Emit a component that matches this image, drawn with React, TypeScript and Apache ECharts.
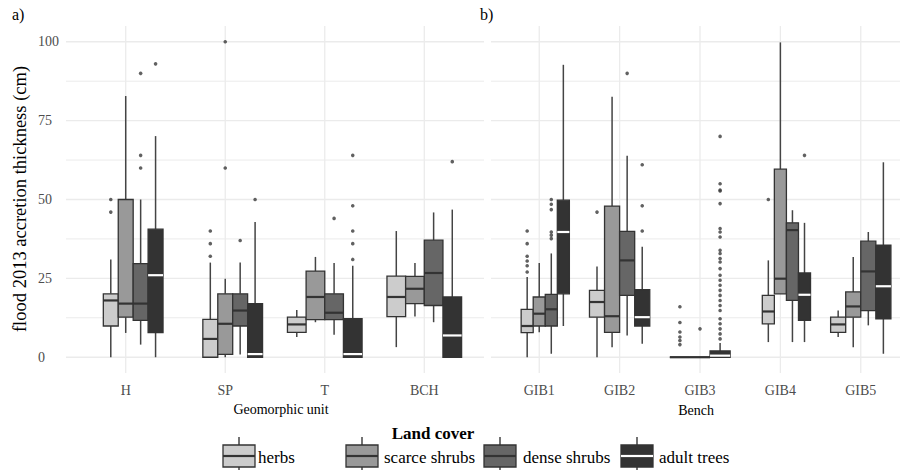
import React, { useEffect, useRef } from "react";
import * as echarts from "echarts";

// ---------- data ----------
const unitCats = ["H", "SP", "T", "BCH"];
const benchCats = ["GIB1", "GIB2", "GIB3", "GIB4", "GIB5"];
const landCovers = ["herbs", "scarce shrubs", "dense shrubs", "adult trees"];

const yMajor = [0, 25, 50, 75, 100];
const yMinor = [12.5, 37.5, 62.5, 87.5];

// box statistics per category: [min, Q1, median, Q3, max]
const unitHerbs = [[0, 9.9, 18, 20.1, 31], [0, 0, 5.8, 12, 30], [6.4, 7.9, 10.4, 12.7, 15], [3.2, 12.9, 19.1, 25.7, 40]];
const unitScarce = [[7.7, 12.7, 17, 50, 82.8], [0, 0.9, 10.6, 20.1, 24.9], [11.1, 11.9, 19.1, 27.3, 31.8], [12.9, 17, 21.7, 25.6, 29.9]];
const unitDense = [[4, 11.7, 17, 29.7, 50], [0.9, 9.9, 14.8, 20.1, 30], [7.1, 11.9, 14.1, 20.1, 29.9], [11.1, 16.4, 26.7, 37.1, 45.9]];
const unitAdult = [[0, 7.8, 26, 40.6, 70.1], [0, 0, 1, 17, 42.9], [0, 0, 1, 12.2, 29], [0, 0, 6.9, 19.1, 46.8]];

const unitHerbsOut = [[50, 46], [40, 36, 32], [], []];
const unitScarceOut = [[], [100, 60], [], []];
const unitDenseOut = [[90, 64, 60], [37], [44], []];
const unitAdultOut = [[93], [50], [64, 48, 40, 36, 31], [62]];

const benchHerbs = [[0, 7.8, 9.9, 15.2, 25.4], [0, 12.7, 17.5, 21.2, 28.8], [0, 0, 0, 0, 0], [4.8, 10.6, 14.5, 19.6, 30.7], [6.4, 7.9, 10.4, 12.7, 14.8]];
const benchScarce = [[7.9, 9.9, 13.8, 19.1, 29.9], [3.2, 7.9, 13, 47.9, 82.6], [0, 0, 0, 0, 0], [20.1, 20.1, 24.9, 59.6, 99.8], [3.2, 12.7, 16.1, 20.7, 31.8]];
const benchDense = [[1.1, 9.9, 15.2, 19.9, 32.9], [6.9, 19.6, 30.7, 39.9, 63.9], null, [4.8, 18, 40.3, 42.6, 46.6], [10.1, 14.8, 27.2, 36.8, 39.7]];
const benchAdult = [[9.9, 20.1, 39.7, 49.8, 92.7], [4.3, 9.9, 12.7, 21.4, 35], [0, 0, 0.5, 2, 4.5], [4.8, 11.7, 19.8, 26.7, 42.6], [1.1, 12.2, 22.5, 35.5, 61.8]];

const benchHerbsOut = [[40, 36, 32, 30.5, 29, 27], [46], [16, 11, 8, 6.4, 5.3, 4], [50], []];
const benchScarceOut = [[], [], [9], [], []];
const benchDenseOut = [[50, 48.5, 46.8, 39.7, 38.7, 37.6], [90], [], [], []];
const benchAdultOut = [[], [61, 48, 40], [70, 55, 53, 52.7, 48.7, 40.8, 39.7, 38.1, 33.9, 32.9, 31.3, 30.2, 28.1, 26, 24.4, 22.8, 21.2, 19.6, 18, 16.4, 14.8, 12.2, 10.6, 9, 7.4, 5.8], [64], []];

// dodge slots per category, and slot of each land cover (-1 = absent)
const unitDodge = [5, 5, 4, 4];
const unitSlot = [[1, 2, 3, 4], [1, 2, 3, 4], [0, 1, 2, 3], [0, 1, 2, 3]];
const benchDodge = [5, 4, 3, 5, 4];
const benchSlot = [[1, 2, 3, 4], [0, 1, 2, 3], [0, 1, -1, 2], [1, 2, 3, 4], [0, 1, 2, 3]];

// ---------- styles ----------
const FILLS = ["#cccccc", "#999999", "#666666", "#333333"];
const FONT = "'Liberation Serif', 'DejaVu Serif', serif";
const DODGE_W = 0.75;

function slotPos(cat: number, nSlots: number, slot: number) {
  const w = DODGE_W / nSlots;
  return { x: cat + 1 - DODGE_W / 2 + (slot + 0.5) * w, hw: w / 2 };
}

function buildBoxes(stats: any[][], dodge: number[], slots: number[][]) {
  const out: any[] = [];
  stats.forEach((arr, c) => {
    arr.forEach((s: number[] | null, i: number) => {
      if (!s) return;
      const sl = slots[i][c];
      if (sl < 0) return;
      const p = slotPos(i, dodge[i], sl);
      out.push([p.x, p.hw, s[0], s[1], s[2], s[3], s[4], c]);
    });
  });
  return out;
}

function buildOutliers(outs: number[][][], dodge: number[], slots: number[][]) {
  const out: any[] = [];
  outs.forEach((arr, c) => {
    arr.forEach((vals, i) => {
      const sl = slots[i][c];
      if (sl < 0) return;
      const p = slotPos(i, dodge[i], sl);
      vals.forEach((v) => out.push([p.x, v]));
    });
  });
  return out;
}

function boxRender(params: any, api: any) {
  const x = api.value(0);
  const hw = api.value(1);
  const c = api.value(7);
  const lx = api.coord([x - hw, 0])[0];
  const rx = api.coord([x + hw, 0])[0];
  const cx = api.coord([x, 0])[0];
  const yv = (k: number) => api.coord([x, api.value(k)])[1];
  const yMin = yv(2), yQ1 = yv(3), yMed = yv(4), yQ3 = yv(5), yMax = yv(6);
  const wStyle = { stroke: "#444444", lineWidth: 1.5 };
  return {
    type: "group",
    children: [
      { type: "line", shape: { x1: cx, y1: yQ3, x2: cx, y2: yMax }, style: wStyle },
      { type: "line", shape: { x1: cx, y1: yQ1, x2: cx, y2: yMin }, style: wStyle },
      {
        type: "rect",
        shape: { x: lx, y: yQ3, width: rx - lx, height: yQ1 - yQ3 },
        style: { fill: FILLS[c], stroke: "#333333", lineWidth: 1.3 },
      },
      {
        type: "line",
        shape: { x1: lx, y1: yMed, x2: rx, y2: yMed },
        style: { stroke: c === 3 ? "#ffffff" : "#333333", lineWidth: 2.2 },
      },
    ],
  };
}

function gridRender(xMin: number, xMax: number) {
  return (params: any, api: any) => {
    const kind = api.value(0);
    const v = api.value(1);
    let a, b;
    if (kind === 0 || kind === 1) {
      a = api.coord([xMin, v]);
      b = api.coord([xMax, v]);
    } else {
      a = api.coord([v, -5]);
      b = api.coord([v, 105]);
    }
    return {
      type: "line",
      shape: { x1: a[0], y1: a[1], x2: b[0], y2: b[1] },
      style: { stroke: "#ebebeb", lineWidth: kind === 1 ? 1 : 1.3 },
      silent: true,
    };
  };
}

function gridData(nCats: number) {
  const d: any[] = [];
  yMajor.forEach((v) => d.push([0, v]));
  yMinor.forEach((v) => d.push([1, v]));
  for (let i = 1; i <= nCats; i++) d.push([2, i]);
  return d;
}

export default function App() {
  const ref = useRef<HTMLDivElement>(null);
  useEffect(() => {
    if (!ref.current) return;
    const chart = echarts.init(ref.current, null, { renderer: "svg" });

    const unitBoxes = buildBoxes([unitHerbs, unitScarce, unitDense, unitAdult], unitDodge, unitSlot);
    const benchBoxes = buildBoxes([benchHerbs, benchScarce, benchDense, benchAdult], benchDodge, benchSlot);
    const unitOut = buildOutliers([unitHerbsOut, unitScarceOut, unitDenseOut, unitAdultOut], unitDodge, unitSlot);
    const benchOut = buildOutliers([benchHerbsOut, benchScarceOut, benchDenseOut, benchAdultOut], benchDodge, benchSlot);

    const tickLabel = { color: "#4d4d4d", fontFamily: FONT, fontSize: 14 };

    const xAxisBase = (idx: number, cats: string[]) => ({
      type: "value",
      gridIndex: idx,
      min: 0.4,
      max: cats.length + 0.6,
      axisLine: { show: false },
      axisTick: { show: false },
      splitLine: { show: false },
      axisLabel: {
        ...tickLabel,
        margin: 10,
        customValues: cats.map((_, i) => i + 1),
        formatter: (v: number) => cats[Math.round(v) - 1] ?? "",
      },
    });

    const legendKeyX = [223, 346, 484, 621];
    const legendTextX = [258, 384, 523, 659];
    const legendChildren: any[] = [];
    landCovers.forEach((name, c) => {
      const x = legendKeyX[c];
      const w = 32;
      legendChildren.push(
        { type: "line", shape: { x1: x + w / 2, y1: 437, x2: x + w / 2, y2: 476 }, style: { stroke: "#444444", lineWidth: 1.5 } },
        { type: "rect", shape: { x, y: 445, width: w, height: 22 }, style: { fill: FILLS[c], stroke: "#333333", lineWidth: 1.3 } },
        { type: "line", shape: { x1: x, y1: 456, x2: x + w, y2: 456 }, style: { stroke: c === 3 ? "#ffffff" : "#333333", lineWidth: 2.2 } },
        { type: "text", x: legendTextX[c], y: 457, style: { text: name, fill: "#000", font: `17px ${FONT}`, verticalAlign: "middle", align: "left" } }
      );
    });

    chart.setOption({
      animation: false,
      backgroundColor: "#ffffff",
      grid: [
        { left: 66, top: 26, width: 418, height: 347, outerBoundsMode: "none" },
        { left: 491, top: 26, width: 418, height: 347, outerBoundsMode: "none" },
      ],
      xAxis: [xAxisBase(0, unitCats), xAxisBase(1, benchCats)],
      yAxis: [
        {
          type: "value",
          gridIndex: 0,
          min: -5,
          max: 105,
          axisLine: { show: false },
          axisTick: { show: false },
          splitLine: { show: false },
          axisLabel: { ...tickLabel, align: "left", margin: 28, customValues: yMajor },
        },
        {
          type: "value",
          gridIndex: 1,
          min: -5,
          max: 105,
          axisLine: { show: false },
          axisTick: { show: false },
          splitLine: { show: false },
          axisLabel: { show: false },
        },
      ],
      series: [
        { type: "custom", xAxisIndex: 0, yAxisIndex: 0, z: 0, silent: true, renderItem: gridRender(0.4, 4.6), data: gridData(4) },
        { type: "custom", xAxisIndex: 1, yAxisIndex: 1, z: 0, silent: true, renderItem: gridRender(0.4, 5.6), data: gridData(5) },
        { type: "custom", xAxisIndex: 0, yAxisIndex: 0, z: 2, silent: true, renderItem: boxRender, data: unitBoxes },
        { type: "custom", xAxisIndex: 1, yAxisIndex: 1, z: 2, silent: true, renderItem: boxRender, data: benchBoxes },
        { type: "scatter", xAxisIndex: 0, yAxisIndex: 0, z: 3, silent: true, symbol: "circle", symbolSize: 3.6, itemStyle: { color: "#3a3a3a" }, data: unitOut },
        { type: "scatter", xAxisIndex: 1, yAxisIndex: 1, z: 3, silent: true, symbol: "circle", symbolSize: 3.6, itemStyle: { color: "#3a3a3a" }, data: benchOut },
      ],
      graphic: [
        { type: "text", x: 12, y: 14, style: { text: "a)", fill: "#000", font: `16px ${FONT}`, verticalAlign: "middle" } },
        { type: "text", x: 480, y: 14, style: { text: "b)", fill: "#000", font: `16px ${FONT}`, verticalAlign: "middle" } },
        {
          type: "text",
          x: 20,
          y: 199,
          rotation: Math.PI / 2,
          style: { text: "flood 2013 accretion thickness (cm)", fill: "#000", font: `18.5px ${FONT}`, align: "center", verticalAlign: "middle" },
        },
        { type: "text", x: 281, y: 409, style: { text: "Geomorphic unit", fill: "#000", font: `14px ${FONT}`, align: "center", verticalAlign: "middle" } },
        { type: "text", x: 696, y: 410, style: { text: "Bench", fill: "#000", font: `14px ${FONT}`, align: "center", verticalAlign: "middle" } },
        { type: "text", x: 433, y: 433, style: { text: "Land cover", fill: "#000", font: `bold 17px ${FONT}`, align: "center", verticalAlign: "middle" } },
        { type: "group", children: legendChildren },
      ],
    });

    return () => chart.dispose();
  }, []);

  return <div ref={ref} style={{ position: "fixed", left: 0, top: 0, width: 900, height: 470, background: "#fff" }} />;
}
